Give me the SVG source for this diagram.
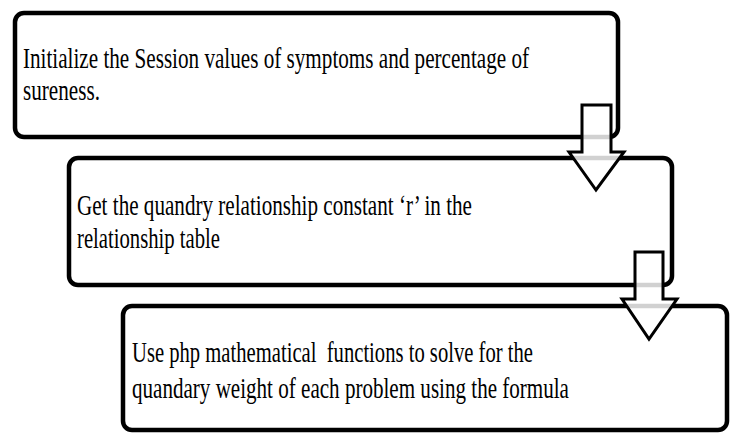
<svg xmlns="http://www.w3.org/2000/svg" width="732" height="434" viewBox="0 0 732 434">
<style>
.box{fill:#fff;stroke:#000;stroke-width:4.5}
.t{font-family:"Liberation Serif","Times New Roman",serif;font-size:30px;fill:#000;white-space:pre}
.arr{fill:#fff;fill-opacity:0.82;stroke:#000;stroke-width:3;stroke-linejoin:miter}
</style>
<rect width="732" height="434" fill="#fff"/>
<g id="node1">
<rect class="box" x="15" y="13" width="603" height="124" rx="9"/>
<text class="t" transform="matrix(0.72 0 0 1 23 68)" textLength="702.8" lengthAdjust="spacingAndGlyphs">Initialize the Session values of symptoms and percentage of</text>
<text class="t" transform="matrix(0.72 0 0 1 23 100)" textLength="106.9" lengthAdjust="spacingAndGlyphs">sureness.</text>
</g>
<g id="node2">
<rect class="box" x="69" y="158" width="603" height="127" rx="9"/>
<text class="t" transform="matrix(0.72 0 0 1 77 215)" textLength="548.6" lengthAdjust="spacingAndGlyphs">Get the quandry relationship constant ‘r’ in the</text>
<text class="t" transform="matrix(0.72 0 0 1 77 248)" textLength="198.6" lengthAdjust="spacingAndGlyphs">relationship table</text>
</g>
<g id="node3">
<rect class="box" x="123" y="306" width="604" height="124" rx="9"/>
<text class="t" transform="matrix(0.72 0 0 1 132 362)" textLength="556.9" lengthAdjust="spacingAndGlyphs">Use php mathematical  functions to solve for the</text>
<text class="t" transform="matrix(0.72 0 0 1 132 398)" textLength="606.9" lengthAdjust="spacingAndGlyphs">quandary weight of each problem using the formula</text>
</g>
<g id="connectors">
<path class="arr" d="M582,105 H611 V152 H624 L596,190 L569,152 H582 Z"/>
<path class="arr" d="M635,252 H663 V299 H677 L649,339 L622,299 H635 Z"/>
</g>
</svg>
